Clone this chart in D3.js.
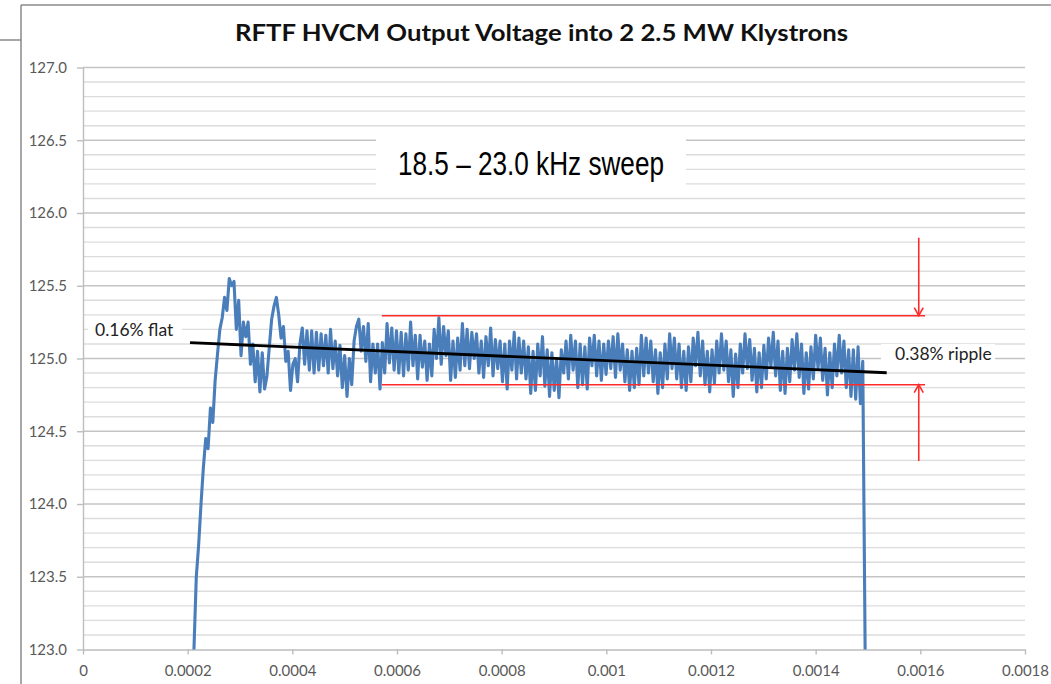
<!DOCTYPE html>
<html>
<head>
<meta charset="utf-8">
<script src="https://cdn.jsdelivr.net/npm/d3@7"></script>
<style>
  html, body { margin: 0; padding: 0; background: #fff; }
  svg { display: block; }
</style>
</head>
<body>
<svg id="chart" width="1051" height="684"></svg>
<script>
// ---- chart text ----
const chartTitle = "RFTF HVCM Output Voltage into 2 2.5 MW Klystrons";
const sweepNote = "18.5 \u2013 23.0 kHz sweep";
const flatNote = "0.16% flat";
const rippleNote = "0.38% ripple";

// ---- axes ----
const xTicks = [0, 0.0002, 0.0004, 0.0006, 0.0008, 0.001, 0.0012, 0.0014, 0.0016, 0.0018];
const xTickLabels = ["0", "0.0002", "0.0004", "0.0006", "0.0008", "0.001", "0.0012", "0.0014", "0.0016", "0.0018"];
const yTicks = [123.0, 123.5, 124.0, 124.5, 125.0, 125.5, 126.0, 126.5, 127.0];
const yTickLabels = ["123.0", "123.5", "124.0", "124.5", "125.0", "125.5", "126.0", "126.5", "127.0"];

// ---- HVCM output voltage trace (kV), sampled every traceStepUs microseconds ----
const traceStartUs = 212;
const traceStepUs = 4.5;
const traceVolts = [
  123.00, 123.50, 123.72, 124.00, 124.25, 124.45, 124.38, 124.66, 124.56, 124.85,
  125.03, 125.20, 125.28, 125.42, 125.33, 125.55, 125.50, 125.53, 125.20, 125.40,
  125.02, 125.25, 125.15, 125.25, 124.96, 125.10, 124.84, 125.05, 124.77, 125.04,
  124.79, 124.88, 125.08, 125.27, 125.36, 125.42, 125.30, 125.14, 125.22, 124.98,
  125.05, 124.78, 124.96, 125.00, 124.84, 125.10, 125.21, 124.96, 125.19, 124.92,
  125.19, 124.90, 125.18, 124.92, 125.17, 124.95, 125.16, 124.90, 125.20, 124.93,
  125.12, 124.88, 125.09, 124.80, 125.02, 124.74, 125.00, 124.82, 125.12, 125.22,
  125.27, 125.05, 125.22, 124.98, 125.24, 124.84, 125.10, 124.90, 125.10, 124.79,
  125.11, 124.90, 125.24, 124.97, 125.21, 124.92, 125.19, 124.90, 125.18, 124.88,
  125.17, 124.92, 125.25, 124.95, 125.16, 124.86, 125.16, 124.94, 125.12, 124.85,
  125.10, 124.88, 125.20, 125.00, 125.28, 124.96, 125.22, 125.02, 125.19, 124.85,
  125.12, 124.87, 125.14, 124.92, 125.24, 124.95, 125.20, 124.93, 125.18, 125.00,
  125.17, 124.90, 125.12, 124.87, 125.15, 124.95, 125.21, 124.88, 125.13, 124.93,
  125.12, 124.84, 125.10, 124.79, 125.12, 124.92, 125.18, 124.86, 125.14, 124.90,
  125.12, 124.86, 125.08, 124.76, 125.05, 124.78, 125.10, 124.88, 125.15, 124.81,
  125.06, 124.74, 125.04, 124.78, 125.00, 124.73, 125.06, 124.90, 125.12, 124.86,
  125.16, 124.92, 125.12, 124.80, 125.10, 124.82, 125.08, 124.79, 125.14, 124.95,
  125.16, 124.88, 125.12, 124.85, 125.10, 124.89, 125.12, 124.93, 125.15, 124.87,
  125.17, 124.92, 125.10, 124.84, 125.06, 124.78, 125.05, 124.80, 125.07, 124.82,
  125.16, 124.88, 125.14, 124.90, 125.12, 124.84, 125.06, 124.76, 125.04, 124.80,
  125.10, 124.86, 125.17, 124.93, 125.14, 124.86, 125.10, 124.80, 125.05, 124.78,
  125.08, 124.84, 125.14, 124.95, 125.18, 124.88, 125.12, 124.82, 125.05, 124.77,
  125.06, 124.83, 125.12, 124.90, 125.17, 124.92, 125.12, 124.84, 125.06, 124.74,
  125.03, 124.80, 125.10, 124.90, 125.17, 124.93, 125.13, 124.85, 125.07, 124.77,
  125.04, 124.80, 125.09, 124.86, 125.14, 124.94, 125.18, 124.88, 125.12, 124.78,
  125.05, 124.76, 125.07, 124.84, 125.13, 124.92, 125.17, 124.87, 125.10, 124.76,
  125.04, 124.79, 125.08, 124.86, 125.16, 124.93, 125.14, 124.85, 125.07, 124.75,
  125.04, 124.80, 125.10, 124.88, 125.16, 124.90, 125.12, 124.80, 125.06, 124.74,
  125.06, 124.72, 125.08, 124.69, 124.98, 123.00
];

// ---- annotations ----
const trendTime = [0.0002045, 0.0015357];
const trendVolts = [125.109, 124.902];
const rippleBandTime = [0.000571, 0.001609];
const rippleBandVolts = [125.294, 124.820];
const arrowTime = 0.001597;
const arrowTailVolts = [125.830, 124.296];

// ---- drawing ----
const svg = d3.select("#chart");
const x = d3.scaleLinear().domain([0, 0.0018]).range([83, 1025]);
const y = d3.scaleLinear().domain([123, 127]).range([649.5, 67.5]);
const labelFont = "Lato, 'Open Sans', sans-serif";

// outer frame
const frame = svg.append("g").attr("stroke", "#8a8a8a").attr("stroke-width", 1.5).attr("fill", "none");
frame.append("line").attr("x1", 21).attr("y1", 5).attr("x2", 1051).attr("y2", 5);
frame.append("line").attr("x1", 21).attr("y1", 5).attr("x2", 21).attr("y2", 684);
frame.append("line").attr("x1", 0).attr("y1", 40).attr("x2", 21).attr("y2", 40);

// horizontal gridlines every 0.1
const gridValues = d3.range(1231, 1271, 1).map(v => v / 10);
svg.append("g").selectAll("line").data(gridValues).join("line")
  .attr("x1", x(0)).attr("x2", x(0.0018))
  .attr("y1", d => y(d)).attr("y2", d => y(d))
  .attr("stroke", d => (Math.round(d * 10) % 5 === 0) ? "#c4c4c4" : "#dcdcdc")
  .attr("stroke-width", 1.4);

// axes
const xAxis = svg.append("g").attr("transform", `translate(0,${y(123)})`)
  .call(d3.axisBottom(x).tickValues(xTicks).tickFormat((d, i) => xTickLabels[i]).tickSize(5).tickSizeOuter(0));
const yAxis = svg.append("g").attr("transform", `translate(${x(0)},0)`)
  .call(d3.axisLeft(y).tickValues(yTicks).tickFormat((d, i) => yTickLabels[i]).tickSize(6).tickSizeOuter(0));
[xAxis, yAxis].forEach(g => {
  g.select(".domain").attr("stroke", "#bdbdbd").attr("stroke-width", 1.4);
  g.selectAll(".tick line").attr("stroke", "#bdbdbd").attr("stroke-width", 1.4);
  g.selectAll(".tick text").attr("fill", "#595959").style("font-family", labelFont).style("font-size", "15px");
});
xAxis.selectAll(".tick text").attr("dy", null).attr("y", 26);
yAxis.selectAll(".tick text").attr("x", -16);

// title
svg.append("text")
  .attr("x", 541.5).attr("y", 41)
  .attr("text-anchor", "middle")
  .attr("textLength", 613).attr("lengthAdjust", "spacingAndGlyphs")
  .style("font-family", labelFont).style("font-weight", "bold").style("font-size", "23px")
  .attr("fill", "#111")
  .text(chartTitle);

// sweep note box
svg.append("rect").attr("x", 376).attr("y", 131).attr("width", 310).attr("height", 61).attr("fill", "#fff");
svg.append("text")
  .attr("x", 531).attr("y", 175)
  .attr("text-anchor", "middle")
  .attr("textLength", 266).attr("lengthAdjust", "spacingAndGlyphs")
  .style("font-family", "'Liberation Sans', Arial, sans-serif").style("font-size", "33px")
  .attr("fill", "#000")
  .text(sweepNote);

// trace
const trace = traceVolts.map((v, i) => [(traceStartUs + i * traceStepUs) * 1e-6, v]);
svg.append("path")
  .datum(trace)
  .attr("fill", "none")
  .attr("stroke", "#4a7ebb")
  .attr("stroke-width", 3.1)
  .attr("stroke-linejoin", "round")
  .attr("d", d3.line().x(d => x(d[0])).y(d => y(d[1])));

// ripple band limits
svg.append("g").selectAll("line").data(rippleBandVolts).join("line")
  .attr("x1", x(rippleBandTime[0])).attr("x2", x(rippleBandTime[1]))
  .attr("y1", d => y(d)).attr("y2", d => y(d))
  .attr("stroke", "#ff2a2a").attr("stroke-width", 1.6);

// arrows pointing at the band limits
arrowTailVolts.forEach((tail, i) => {
  const head = rippleBandVolts[i];
  const ax = x(arrowTime), y0 = y(tail), y1 = y(head);
  const dir = y1 > y0 ? 1 : -1;
  const g = svg.append("g").attr("stroke", "#ff2a2a").attr("stroke-width", 1.6).attr("fill", "none");
  g.append("line").attr("x1", ax).attr("y1", y0).attr("x2", ax).attr("y2", y1);
  g.append("path").attr("d", `M${ax - 4.5},${y1 - dir * 8}L${ax},${y1}L${ax + 4.5},${y1 - dir * 8}`);
});

// trend line
svg.append("line")
  .attr("x1", x(trendTime[0])).attr("y1", y(trendVolts[0]))
  .attr("x2", x(trendTime[1])).attr("y2", y(trendVolts[1]))
  .attr("stroke", "#000").attr("stroke-width", 2.8);

// side notes
svg.append("rect").attr("x", 88).attr("y", 318).attr("width", 94).attr("height", 23).attr("fill", "#fff");
svg.append("text").attr("x", 95).attr("y", 336)
  .style("font-family", labelFont).style("font-size", "17.5px").attr("fill", "#222").text(flatNote);
svg.append("rect").attr("x", 881).attr("y", 344).attr("width", 114).attr("height", 23).attr("fill", "#fff");
svg.append("text").attr("x", 895).attr("y", 360)
  .style("font-family", labelFont).style("font-size", "17.5px").attr("fill", "#222").text(rippleNote);
</script>
</body>
</html>
